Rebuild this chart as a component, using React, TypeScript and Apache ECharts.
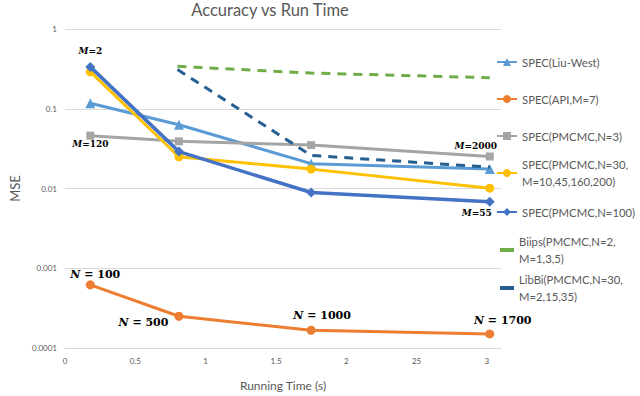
import React, { useEffect, useRef } from "react";
import * as echarts from "echarts";

const runTimes = [0.18, 0.81, 1.75, 3.02];
const liuWest = [0.117, 0.063, 0.0205, 0.0175];
const apiM7 = [0.00062, 0.00025, 0.000167, 0.00015];
const pmcmcN3 = [0.046, 0.039, 0.035, 0.0252];
const pmcmcN30 = [0.29, 0.025, 0.0175, 0.0101];
const pmcmcN100 = [0.335, 0.029, 0.0089, 0.0068];
const extTimes = [0.8, 1.75, 3.02];
const biips = [0.34, 0.28, 0.245];
const libbi = [0.31, 0.026, 0.0185];

const apiLabels = ["{n|N} = 100", "{n|N} = 500", "{n|N} = 1000", "{n|N} = 1700"];
const n3Labels = ["{n|M}=120", "", "", "{n|M}=2000"];
const n100Labels = ["{n|M}=2", "", "", "{n|M}=55"];

const xTickLabels = ["0", "0.5", "1", "1.5", "2", "25", "3"];
const yTickLabels = ["1", "0.1", "0.01", "0.001", "0.0001"];

const seriesNames = [
  "SPEC(Liu-West)",
  "SPEC(API,M=7)",
  "SPEC(PMCMC,N=3)",
  "SPEC(PMCMC,N=30,\nM=10,45,160,200)",
  "SPEC(PMCMC,N=100)",
  "Biips(PMCMC,N=2,\nM=1,3,5)",
  "LibBi(PMCMC,N=30,\nM=2,15,35)",
];
const colors = ["#5B9BD5", "#ED7D31", "#A5A5A5", "#FFC000", "#4472C4", "#70AD47", "#255E91"];

const labelRich = {
  n: { fontStyle: "italic", fontWeight: "bold", fontFamily: "DejaVu Serif", color: "#000" },
};

export default function App() {
  const ref = useRef<HTMLDivElement>(null);
  useEffect(() => {
    if (!ref.current) return;
    const chart = echarts.init(ref.current, null, { renderer: "svg" });

    const labelBase = {
      show: true,
      fontFamily: "DejaVu Serif",
      fontWeight: "bold",
      color: "#000",
      rich: labelRich,
    };

    const apiPos = [
      { position: "top", distance: 0, offset: [5, 0] },
      { position: "left", distance: 6, offset: [0, 6] },
      { position: "top", distance: 5, offset: [11, 0] },
      { position: "top", distance: 3, offset: [13, 0] },
    ];
    const n3Pos = [
      { position: "bottom", distance: 0, offset: [0, 0] },
      null,
      null,
      { position: "top", distance: 2, offset: [-14, 0] },
    ];
    const n100Pos = [
      { position: "top", distance: 6, offset: [0, 0] },
      null,
      null,
      { position: "bottom", distance: 2, offset: [-13, 0] },
    ];

    const mk = (xs: number[], ys: number[], labels?: string[], pos?: any[], fs = 9) =>
      xs.map((x, i) => {
        const item: any = { value: [x, ys[i]] };
        if (labels && labels[i] && pos && pos[i]) {
          item.label = { ...labelBase, fontSize: fs, formatter: labels[i], ...pos[i], rich: { n: { ...labelRich.n, fontSize: fs } } };
        }
        return item;
      });

    const lineSeries = (idx: number, data: any[], symbol: string, symbolSize: number, width = 3, dashed = false) => ({
      name: seriesNames[idx],
      type: "line",
      data,
      symbol,
      symbolSize,
      showSymbol: symbol !== "none",
      itemStyle: { color: colors[idx] },
      lineStyle: { color: colors[idx], width, type: dashed ? [9, 7] : "solid" },
      z: 2 + idx,
    });

    const legendTops = [53.5, 90.5, 127.5, 147.5, 203.5, 224.5, 262.5];
    const legends = seriesNames.map((name, i) => {
      const plain = i >= 5;
      return {
        data: [name],
        orient: "vertical",
        left: plain ? 500 : 496,
        top: legendTops[i],
        padding: 0,
        itemWidth: plain ? 14 : 20,
        itemHeight: plain ? 4 : 10,
        icon: plain ? "rect" : undefined,
        itemGap: 0,
        textStyle: {
          fontFamily: "Lato",
          fontSize: 11.3,
          color: "#595959",
          lineHeight: 17,
          padding: name.includes("\n") ? [17, 0, 0, 0] : 0,
        },
      };
    });

    chart.setOption({
      animation: false,
      backgroundColor: "#fff",
      title: {
        text: "Accuracy vs Run Time",
        left: 270,
        top: 1,
        padding: 0,
        textAlign: "center",
        textStyle: { fontFamily: "Lato", fontSize: 16.5, fontWeight: "normal", color: "#595959" },
      },
      legend: legends,
      grid: { left: 38, right: 139, top: 29, bottom: 40, containLabel: false },
      xAxis: {
        type: "value",
        min: 0,
        max: 3.1,
        interval: 0.5,
        name: "Running Time (s)",
        nameLocation: "middle",
        nameGap: 31,
        nameTextStyle: { fontFamily: "Lato", fontSize: 12, color: "#595959" },
        axisLine: { show: true, lineStyle: { color: "#D9D9D9" } },
        axisTick: { show: false },
        splitLine: { show: false },
        axisLabel: {
          fontFamily: "Lato",
          fontSize: 8,
          color: "#595959",
          margin: 9,
          formatter: (v: number) => {
            const k = v / 0.5;
            if (Math.abs(k - Math.round(k)) > 1e-6) return "";
            return xTickLabels[Math.round(k)] ?? "";
          },
        },
      },
      yAxis: {
        type: "log",
        logBase: 10,
        min: 0.0001,
        max: 1,
        name: "MSE",
        nameLocation: "middle",
        nameGap: 26,
        nameTextStyle: { fontFamily: "Lato", fontSize: 13, color: "#595959" },
        axisLine: { show: false },
        axisTick: { show: false },
        splitLine: { show: true, lineStyle: { color: "#D9D9D9", width: 1 } },
        axisLabel: {
          fontFamily: "Lato",
          fontSize: 8,
          color: "#595959",
          margin: 8,
          formatter: (v: number) => {
            const k = Math.round(-Math.log10(v));
            return yTickLabels[k] ?? "";
          },
        },
      },
      series: [
        lineSeries(0, mk(runTimes, liuWest), "triangle", 10),
        lineSeries(1, mk(runTimes, apiM7, apiLabels, apiPos, 11), "circle", 9),
        lineSeries(2, mk(runTimes, pmcmcN3, n3Labels, n3Pos), "rect", 8),
        lineSeries(3, mk(runTimes, pmcmcN30), "circle", 9),
        lineSeries(4, mk(runTimes, pmcmcN100, n100Labels, n100Pos), "diamond", 10, 3.5),
        lineSeries(5, mk(extTimes, biips), "none", 0, 3, true),
        lineSeries(6, mk(extTimes, libbi), "none", 0, 3, true),
      ],
    });
    return () => chart.dispose();
  }, []);
  return <div ref={ref} style={{ width: 640, height: 396, position: "absolute", left: 0, top: 0 }} />;
}
